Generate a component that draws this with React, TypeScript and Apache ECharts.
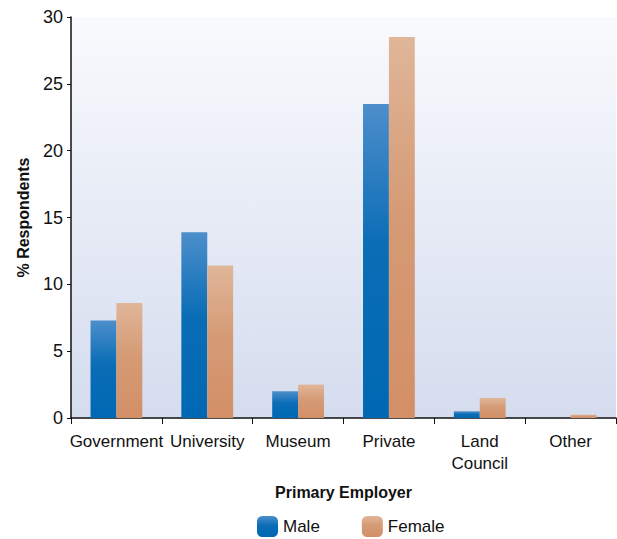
import React, { useEffect, useRef } from "react";
import * as echarts from "echarts";

const categories = ["Government", "University", "Museum", "Private", "Land\nCouncil", "Other"];
const maleValues = [7.3, 13.9, 2.0, 23.5, 0.5, 0];
const femaleValues = [8.6, 11.4, 2.5, 28.5, 1.5, 0.25];
const yTicks = { min: 0, max: 30, interval: 5 };

const FONT = "'Liberation Sans Narrow', 'Liberation Sans', Arial, sans-serif";

export default function App() {
  const ref = useRef<HTMLDivElement>(null);
  useEffect(() => {
    const chart = echarts.init(ref.current!, undefined, { renderer: "svg" });
    const grad = (top: string, mid: string, bottom: string) =>
      new echarts.graphic.LinearGradient(0, 0, 0, 1, [
        { offset: 0, color: top },
        { offset: 0.45, color: mid },
        { offset: 1, color: bottom },
      ]);
    chart.setOption({
      animation: false,
      textStyle: { fontFamily: FONT },
      grid: {
        left: 71,
        right: 1,
        top: 17,
        bottom: 121,
        show: true,
        borderWidth: 0,
        backgroundColor: new echarts.graphic.LinearGradient(0, 0, 0, 1, [
          { offset: 0, color: "#f9fafd" },
          { offset: 1, color: "#d4dcee" },
        ]),
      },
      legend: {
        top: 516,
        left: 257,
        padding: 0,
        itemWidth: 21,
        itemHeight: 21,
        itemGap: 42,
        icon: "roundRect",
        textStyle: { fontSize: 17, color: "#111", fontFamily: FONT },
        data: ["Male", "Female"],
      },
      xAxis: {
        type: "category",
        data: categories,
        name: "Primary Employer",
        nameLocation: "middle",
        nameGap: 66,
        nameTextStyle: { fontSize: 16, fontWeight: "bold", color: "#111", fontFamily: FONT },
        axisLine: { lineStyle: { color: "#111", width: 1.5 } },
        axisTick: { show: true, length: 6, lineStyle: { color: "#111" } },
        axisLabel: { fontSize: 17, color: "#111", margin: 12, lineHeight: 22, interval: 0, fontFamily: FONT },
      },
      yAxis: {
        type: "value",
        min: yTicks.min,
        max: yTicks.max,
        interval: yTicks.interval,
        name: "% Respondents",
        nameLocation: "middle",
        nameGap: 40,
        nameRotate: 90,
        nameTextStyle: { fontSize: 16, fontWeight: "bold", color: "#111", fontFamily: FONT },
        axisLine: { show: true, lineStyle: { color: "#111", width: 1.5 } },
        axisTick: { show: true, length: 4, lineStyle: { color: "#111" } },
        axisLabel: { fontSize: 18, color: "#111", margin: 8, fontFamily: FONT },
        splitLine: { show: false },
      },
      series: [
        {
          name: "Male",
          type: "bar",
          data: maleValues,
          barGap: "0%",
          barCategoryGap: "43%",
          itemStyle: {
            color: grad("#4d8ecb", "#0a6db6", "#0068b3"),
          },
        },
        {
          name: "Female",
          type: "bar",
          data: femaleValues,
          itemStyle: {
            color: grad("#e0b699", "#d59b76", "#d38f67"),
          },
        },
      ],
    });
    return () => chart.dispose();
  }, []);
  return <div ref={ref} style={{ width: 617, height: 539, position: "absolute", left: 0, top: 0 }} />;
}
